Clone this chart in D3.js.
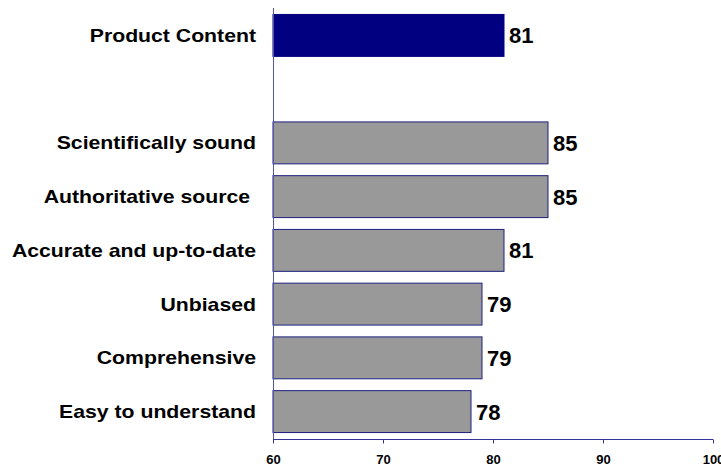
<!DOCTYPE html>
<html>
<head>
<meta charset="utf-8">
<script src="https://cdn.jsdelivr.net/npm/d3@7"></script>
<style>
  html, body { margin: 0; padding: 0; background: #fff; }
  svg { display: block; }
  text { font-family: "Liberation Sans", Arial, sans-serif; font-weight: bold; fill: #000; }
</style>
</head>
<body>
<svg id="chart" width="721" height="467"></svg>
<script>
// Data
const categories = ["Product Content", "", "Scientifically sound", "Authoritative source ", "Accurate and up-to-date", "Unbiased", "Comprehensive", "Easy to understand"];
const values = [81, null, 85, 85, 81, 79, 79, 78];
const highlight = [true, false, false, false, false, false, false, false];
const xTicks = [60, 70, 80, 90, 100];
const xDomain = [60, 100];

const svg = d3.select("#chart");

const x = d3.scaleLinear().domain(xDomain).range([273, 713]);
const y = d3.scaleBand()
  .domain(categories.map((c, i) => i))
  .range([8, 439])
  .paddingInner(0.22)
  .paddingOuter(0.12);

const rows = categories.map((c, i) => ({ cat: c, val: values[i], hi: highlight[i], i }));
const barRows = rows.filter(d => d.val !== null);

// Bars
svg.append("g").selectAll("rect")
  .data(barRows)
  .enter().append("rect")
  .attr("x", x(xDomain[0]))
  .attr("y", d => y(d.i))
  .attr("width", d => x(d.val) - x(xDomain[0]))
  .attr("height", y.bandwidth())
  .attr("fill", d => d.hi ? "#000080" : "#999999")
  .attr("stroke", d => d.hi ? "#000080" : "#1f1f80")
  .attr("stroke-width", 1);

// Value labels
svg.append("g").selectAll("text")
  .data(barRows)
  .enter().append("text")
  .attr("x", d => x(d.val) + 5)
  .attr("y", d => y(d.i) + y.bandwidth() / 2)
  .attr("dy", "0.36em")
  .attr("font-size", 22)
  .text(d => d.val);

// Category labels
svg.append("g").selectAll("text")
  .data(rows.filter(d => d.cat !== ""))
  .enter().append("text")
  .attr("transform", d => `translate(256,${y(d.i) + y.bandwidth() / 2}) scale(1.18,1)`)
  .attr("dy", "0.36em")
  .attr("text-anchor", "end")
  .attr("font-size", 18)
  .style("white-space", "pre")
  .text(d => d.cat);

// Vertical axis line
svg.append("line")
  .attr("x1", x(xDomain[0]) + 0.5).attr("x2", x(xDomain[0]) + 0.5)
  .attr("y1", 8).attr("y2", 439)
  .attr("stroke", "#5555a8").attr("stroke-width", 1);

// X axis
const xAxis = d3.axisBottom(x).tickValues(xTicks).tickSize(4).tickPadding(11.5).tickFormat(d3.format("d"));
const gx = svg.append("g").attr("transform", "translate(0,439.5)").call(xAxis);
gx.select(".domain").attr("stroke", "#333399").attr("d", `M${x(xDomain[0])},0V0H${x(xDomain[1])}V0`);
gx.selectAll(".tick line").attr("stroke", "#333399");
gx.selectAll(".tick text")
  .attr("font-size", 13)
  .attr("font-family", "'Liberation Sans', Arial, sans-serif")
  .attr("font-weight", "bold")
  .attr("fill", "#000");
</script>
</body>
</html>
